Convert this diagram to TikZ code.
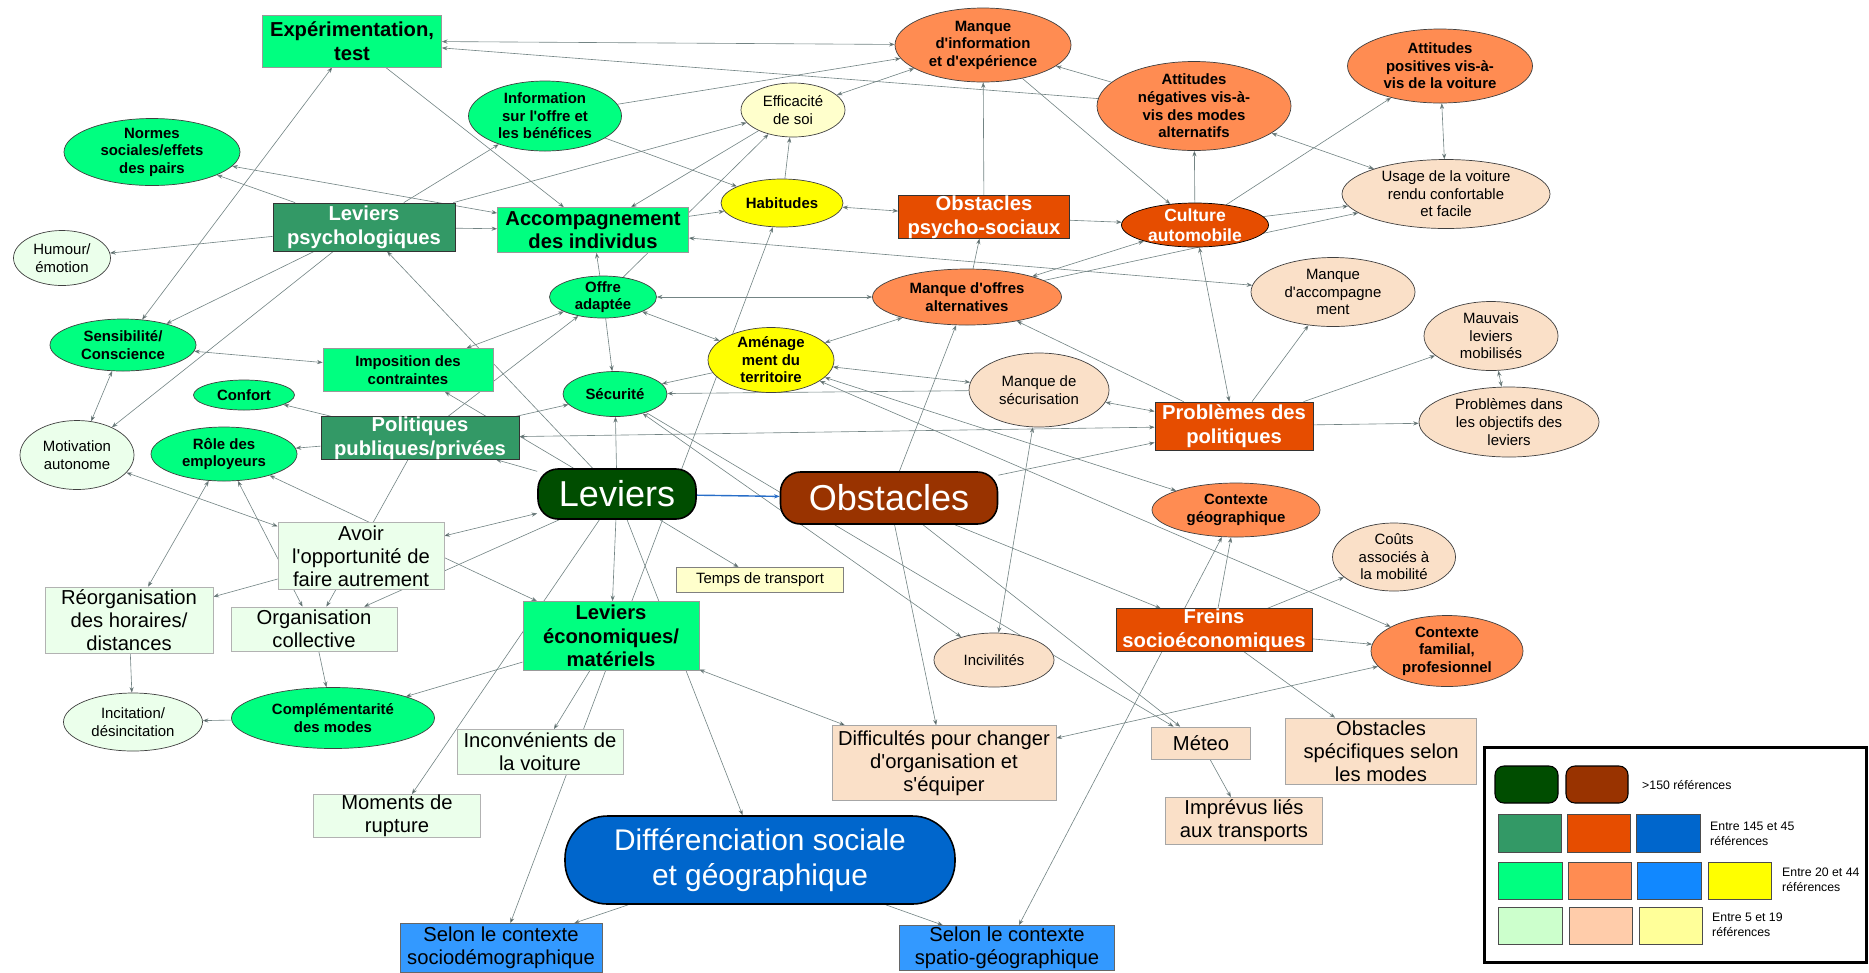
\documentclass[tikz,border=0pt]{standalone}
\usepackage{fontspec}
\setmainfont{Liberation Sans}[Ligatures=TeXOff]
\usetikzlibrary{shapes.geometric,arrows.meta,backgrounds}

\definecolor{levdark}{RGB}{0,77,0}
\definecolor{obsdark}{RGB}{153,51,0}
\definecolor{difdark}{RGB}{0,102,204}
\definecolor{levmid}{RGB}{51,153,102}
\definecolor{obsmid}{RGB}{230,77,0}
\definecolor{levlight}{RGB}{0,255,128}
\definecolor{obslight}{RGB}{255,140,82}
\definecolor{difblue}{RGB}{51,153,255}
\definecolor{difmid}{RGB}{17,136,255}
\definecolor{yel}{RGB}{255,255,0}
\definecolor{levpale}{RGB}{235,255,235}
\definecolor{obspale}{RGB}{250,224,200}
\definecolor{yelpale}{RGB}{255,255,204}
\definecolor{keygreen}{RGB}{204,255,204}
\definecolor{keypeach}{RGB}{255,204,170}
\definecolor{keyyel}{RGB}{255,255,153}
\definecolor{lnkgray}{RGB}{115,132,132}
\definecolor{lnkblue}{RGB}{40,110,200}

\newcommand{\fntS}{\fontsize{8.5}{10}\selectfont}
\newcommand{\fntB}{\fontsize{11.5}{13.5}\selectfont\bfseries}
\newcommand{\fntP}{\fontsize{11.5}{13}\selectfont}
\newcommand{\fntK}{\fontsize{7}{8.3}\selectfont}

\tikzset{
  nd/.style={inner sep=0pt, align=center, line width=0.4pt},
  ellnode/.style={nd, ellipse, inner sep=-2pt, draw=black!75},
  gell/.style={ellnode, fill=levlight, font=\fntS\bfseries},
  pgell/.style={ellnode, fill=levpale, font=\fntS},
  oell/.style={ellnode, fill=obslight, font=\fntS\bfseries},
  doell/.style={ellnode, fill=obsmid, draw=black, text=white, font=\fontsize{10}{11.3}\selectfont\bfseries},
  pell/.style={ellnode, fill=obspale, font=\fntS},
  yell/.style={ellnode, fill=yel, font=\fntS\bfseries},
  pyell/.style={ellnode, fill=yelpale, font=\fntS},
  lbox/.style={nd, rectangle, fill=levlight, draw=black!40, font=\fntB},
  mbox/.style={nd, rectangle, fill=levmid, draw=black!80, text=white, font=\fntB},
  obox/.style={nd, rectangle, fill=obsmid, draw=black!80, text=white, font=\fntB},
  pgbox/.style={nd, rectangle, fill=levpale, draw=black!30, font=\fntP},
  pbox/.style={nd, rectangle, fill=obspale, draw=black!35, font=\fntP},
  pybox/.style={nd, rectangle, fill=yelpale, draw=black!50, font=\fntS},
  bbox/.style={nd, rectangle, fill=difblue, draw=black!60, font=\fntP},
  root/.style={nd, rectangle, draw=black, line width=0.9pt, text=white},
  lnk/.style={draw=lnkgray, line width=0.35pt, ->},
  lnk2/.style={lnk, <->},
  >={Stealth[length=3.2pt,width=2.4pt]}
}

\begin{document}
\begin{tikzpicture}[x=0.2mm, y=-0.2mm]
	\useasboundingbox (0,0) rectangle (1869,972);

	% leviers
	\node[lbox, minimum width=35.8mm, minimum height=10.4mm] (exp) at (352,41) {Expérimentation,\\test};
	\node[gell, minimum width=30.6mm, minimum height=14mm] (info) at (545,116) {Information\\sur l'offre et\\les bénéfices};
	\node[gell, minimum width=35.2mm, minimum height=13.4mm] (normes) at (152,152) {Normes\\sociales/effets\\des pairs};
	\node[mbox, minimum width=36.4mm, minimum height=9.6mm] (levpsy) at (364,227) {Leviers\\psychologiques};
	\node[pgell, minimum width=19.4mm, minimum height=11mm] (humour) at (62,258) {Humour/\\émotion};
	\node[lbox, minimum width=38.2mm, minimum height=9mm] (accomp) at (593,230) {Accompagnement\\des individus};
	\node[gell, minimum width=21.4mm, minimum height=8.4mm] (offre) at (603,297) {Offre\\adaptée};
	\node[gell, minimum width=29.2mm, minimum height=10.4mm] (sensib) at (123,345) {Sensibilité/\\Conscience};
	\node[lbox, font=\fntS\bfseries, minimum width=34mm, minimum height=8.6mm] (impos) at (408,370) {Imposition des\\contraintes};
	\node[gell, minimum width=20.2mm, minimum height=6mm] (confort) at (244,395) {Confort};
	\node[gell, minimum width=20.8mm, minimum height=9mm] (secur) at (615,394) {Sécurité};
	\node[mbox, minimum width=39.6mm, minimum height=8.4mm] (polit) at (420,438) {Politiques\\publiques/privées};
	\node[pgell, minimum width=22.8mm, minimum height=13.8mm] (motiv) at (77,455) {Motivation\\autonome};
	\node[gell, minimum width=29.2mm, minimum height=10.8mm] (role) at (224,454) {Rôle des\\employeurs};
	\node[pgbox, minimum width=33.2mm, minimum height=13.4mm] (avoir) at (361,556) {Avoir\\l'opportunité de\\faire autrement};
	\node[pgbox, minimum width=33.6mm, minimum height=13.2mm] (reorg) at (129,620) {Réorganisation\\des horaires/\\distances};
	\node[pgbox, minimum width=33.2mm, minimum height=8.8mm] (orgcol) at (314,629) {Organisation\\collective};
	\node[lbox, minimum width=35.2mm, minimum height=13.8mm] (leveco) at (611,636) {Leviers\\économiques/\\matériels};
	\node[pgell, minimum width=27.8mm, minimum height=11.6mm] (incit) at (133,722) {Incitation/\\désincitation};
	\node[gell, minimum width=40.6mm, minimum height=12.2mm] (compl) at (333,718) {Complémentarité\\des modes};
	\node[pgbox, minimum width=33.2mm, minimum height=9mm] (inconv) at (540,752) {Inconvénients de\\la voiture};
	\node[pgbox, minimum width=33.4mm, minimum height=8.6mm] (moments) at (397,816) {Moments de\\rupture};
	\node[pybox, minimum width=33.4mm, minimum height=5mm] (temps) at (760,580) {Temps de transport};

	% obstacles
	\node[oell, minimum width=35.2mm, minimum height=14.8mm] (minfo) at (983,45) {Manque\\d'information\\et d'expérience};
	\node[oell, minimum width=38.8mm, minimum height=17.8mm] (attneg) at (1194,106) {Attitudes\\négatives vis-à-\\vis des modes\\alternatifs};
	\node[oell, minimum width=37mm, minimum height=14.8mm] (attpos) at (1440,66) {Attitudes\\positives vis-à-\\vis de la voiture};
	\node[pell, minimum width=41.6mm, minimum height=13.8mm] (usage) at (1446,194) {Usage de la voiture\\rendu confortable\\et facile};
	\node[pyell, minimum width=20.8mm, minimum height=10.8mm] (effic) at (793,110) {Efficacité\\de soi};
	\node[yell, minimum width=24.4mm, minimum height=9.6mm] (habit) at (782,203) {Habitudes};
	\node[obox, minimum width=34.2mm, minimum height=8.2mm] (obstpsy) at (984,217) {Obstacles\\psycho-sociaux};
	\node[doell, minimum width=29.4mm, minimum height=8.8mm] (culture) at (1195,225) {Culture\\automobile};
	\node[pell, minimum width=32.8mm, minimum height=13.8mm] (maccomp) at (1333,292) {Manque\\d'accompagne\\ment};
	\node[oell, minimum width=37.8mm, minimum height=11.2mm] (moffres) at (967,297) {Manque d'offres\\alternatives};
	\node[yell, minimum width=25.2mm, minimum height=13mm] (amenag) at (771,360) {Aménage\\ment du\\territoire};
	\node[pell, minimum width=28mm, minimum height=14.8mm] (msecur) at (1039,390) {Manque de\\sécurisation};
	\node[pell, minimum width=26.8mm, minimum height=13.8mm] (mauvais) at (1491,336) {Mauvais\\leviers\\mobilisés};
	\node[pell, minimum width=36mm, minimum height=14mm] (pobj) at (1509,422) {Problèmes dans\\les objectifs des\\leviers};
	\node[obox, minimum width=31.6mm, minimum height=9.6mm] (probpol) at (1234,426) {Problèmes des\\politiques};
	\node[oell, minimum width=33.6mm, minimum height=10.8mm] (ctxgeo) at (1236,510) {Contexte\\géographique};
	\node[pell, minimum width=24.6mm, minimum height=13.6mm] (couts) at (1394,557) {Coûts\\associés à\\la mobilité};
	\node[obox, minimum width=39.2mm, minimum height=8.2mm] (freins) at (1214,630) {Freins\\socioéconomiques};
	\node[pell, minimum width=24mm, minimum height=10.8mm] (incivil) at (994,660) {Incivilités};
	\node[oell, minimum width=30.4mm, minimum height=14.2mm] (ctxfam) at (1447,651) {Contexte\\familial,\\profesionnel};
	\node[pbox, minimum width=44.8mm, minimum height=15mm] (diffic) at (944,763) {Difficultés pour changer\\d'organisation et\\s'équiper};
	\node[pbox, minimum width=19.8mm, minimum height=6.4mm] (meteo) at (1201,743) {Méteo};
	\node[pbox, minimum width=38.2mm, minimum height=13.2mm] (obstspe) at (1381,751) {Obstacles\\spécifiques selon\\les modes};
	\node[pbox, minimum width=31.4mm, minimum height=9.4mm] (imprev) at (1244,821) {Imprévus liés\\aux transports};

	% racines
	\node[root, fill=levdark, rounded corners=4mm, minimum width=31.6mm, minimum height=10mm, font=\fontsize{20.5}{24}\selectfont] (lev) at (617,494) {Leviers};
	\node[root, fill=obsdark, rounded corners=4mm, minimum width=43.4mm, minimum height=10.4mm, font=\fontsize{20.5}{24}\selectfont] (obst) at (889,498) {Obstacles};
	\node[root, fill=difdark, rounded corners=8.5mm, minimum width=78mm, minimum height=17.6mm, font=\fontsize{17}{20}\selectfont] (diffsoc) at (760,860) {Différenciation sociale\\et géographique};
	\node[bbox, minimum width=40.4mm, minimum height=9.8mm] (selsoc) at (501,948) {Selon le contexte\\sociodémographique};
	\node[bbox, minimum width=43mm, minimum height=9mm] (selspa) at (1007,948) {Selon le contexte\\spatio-géographique};

	% legende
	\draw[line width=1.7pt] (1484,747) rectangle (1866,962);
	\draw[fill=levdark, rounded corners=1.8mm, line width=0.6pt] (1495,766) rectangle (1558,803);
	\draw[fill=obsdark, rounded corners=1.8mm, line width=0.6pt] (1566,766) rectangle (1628,803);
	\draw[fill=levmid, draw=black!70] (1498,814) rectangle (1561,852);
	\draw[fill=obsmid, draw=black!70] (1567,814) rectangle (1630,852);
	\draw[fill=difdark, draw=black!70] (1636,814) rectangle (1700,852);
	\draw[fill=levlight, draw=black!70] (1498,862) rectangle (1562,899);
	\draw[fill=obslight, draw=black!70] (1568,862) rectangle (1631,899);
	\draw[fill=difmid, draw=black!70] (1637,862) rectangle (1701,899);
	\draw[fill=yel, draw=black!70] (1708,862) rectangle (1771,899);
	\draw[fill=keygreen, draw=black!70] (1498,907) rectangle (1562,944);
	\draw[fill=keypeach, draw=black!70] (1569,907) rectangle (1632,944);
	\draw[fill=keyyel, draw=black!70] (1639,907) rectangle (1702,944);
	\node[font=\fntK, anchor=west, align=left] (k1) at (1636,785) {>150 références};
	\node[font=\fntK, anchor=west, align=left] (k2) at (1704,834) {Entre 145 et 45\\références};
	\node[font=\fntK, anchor=west, align=left] (k3) at (1776,880) {Entre 20 et 44\\références};
	\node[font=\fntK, anchor=west, align=left] (k4) at (1706,925) {Entre 5 et 19\\références};

	\begin{pgfonlayer}{background}
	\path[lnk2] (exp) edge (minfo);
	\path[lnk] (attneg) edge (exp);
	\path[lnk2] (exp) edge (sensib);
	\path[lnk] (exp) edge (accomp);
	\path[lnk2] (normes) edge (accomp);
	\path[lnk] (levpsy) edge (normes);
	\path[lnk] (levpsy) edge (humour);
	\path[lnk] (levpsy) edge (info);
	\path[lnk] (levpsy) edge (effic);
	\path[lnk] (levpsy) edge (accomp);
	\path[lnk] (levpsy) edge (sensib);
	\path[lnk] (levpsy) edge (motiv);
	\path[lnk] (lev) edge (levpsy);
	\path[lnk] (info) edge (habit);
	\path[lnk] (info) edge (minfo);
	\path[lnk] (effic) edge (accomp);
	\path[lnk2] (minfo) edge (effic);
	\path[lnk] (obstpsy) edge (minfo);
	\path[lnk] (minfo) edge (culture);
	\path[lnk] (attneg) edge (minfo);
	\path[lnk] (culture) edge (attneg);
	\path[lnk2] (attneg) edge (usage);
	\path[lnk2] (attpos) edge (usage);
	\path[lnk] (culture) edge (attpos);
	\path[lnk] (culture) edge (usage);
	\path[lnk] (moffres) edge (usage);
	\path[lnk2] (moffres) edge (culture);
	\path[lnk] (accomp) edge (habit);
	\path[lnk] (offre) edge (accomp);
	\path[lnk2] (accomp) edge (maccomp);
	\path[lnk2] (offre) edge (impos);
	\path[lnk] (polit) edge (offre);
	\path[lnk] (habit) edge (effic);
	\path[lnk2] (habit) edge (obstpsy);
	\path[lnk2] (habit) edge (selsoc);
	\path[lnk2] (offre) edge (moffres);
	\path[lnk2] (amenag) edge (offre);
	\path[lnk] (offre) edge (secur);
	\path[lnk] (offre) edge (effic);
	\path[lnk2] (sensib) edge (impos);
	\path[lnk2] (sensib) edge (motiv);
	\path[lnk] (lev) edge (impos);
	\path[lnk] (polit) edge (confort);
	\path[lnk] (amenag) edge (secur);
	\path[lnk] (msecur) edge (secur);
	\path[lnk] (polit) edge (secur);
	\path[lnk2] (secur) edge (incivil);
	\path[lnk] (secur) edge (meteo);
	\path[lnk] (lev) edge (secur);
	\path[lnk] (lev) edge (polit);
	\path[lnk2] (polit) edge (probpol);
	\path[lnk] (polit) edge (role);
	\path[lnk] (polit) edge (orgcol);
	\path[lnk2] (lev) edge (avoir);
	\path[lnk] (lev) edge (orgcol);
	\path[lnk] (lev) edge (leveco);
	\path[lnk] (lev) edge (temps);
	\path[lnk] (lev) edge (diffsoc);
	\path[lnk] (lev) edge (moments);
	\path[lnk] (obst) edge (moffres);
	\path[lnk] (moffres) edge (obstpsy);
	\path[lnk] (obst) edge (probpol);
	\path[lnk] (obst) edge (diffic);
	\path[lnk] (obst) edge (meteo);
	\path[lnk] (obst) edge (freins);
	\path[lnk] (meteo) edge (imprev);
	\path[lnk] (freins) edge (obstspe);
	\path[lnk2] (amenag) edge (msecur);
	\path[lnk2] (probpol) edge (msecur);
	\path[lnk2] (msecur) edge (incivil);
	\path[lnk2] (culture) edge (probpol);
	\path[lnk] (probpol) edge (maccomp);
	\path[lnk] (probpol) edge (mauvais);
	\path[lnk] (probpol) edge (pobj);
	\path[lnk] (probpol) edge (moffres);
	\path[lnk2] (mauvais) edge (pobj);
	\path[lnk] (obstpsy) edge (culture);
	\path[lnk2] (amenag) edge (ctxgeo);
	\path[lnk2] (amenag) edge (ctxfam);
	\path[lnk] (freins) edge (ctxgeo);
	\path[lnk2] (ctxgeo) edge (selspa);
	\path[lnk] (freins) edge (couts);
	\path[lnk] (freins) edge (ctxfam);
	\path[lnk2] (ctxfam) edge (diffic);
	\path[lnk2] (leveco) edge (diffic);
	\path[lnk2] (motiv) edge (avoir);
	\path[lnk2] (role) edge (leveco);
	\path[lnk] (avoir) edge (reorg);
	\path[lnk2] (role) edge (reorg);
	\path[lnk2] (role) edge (orgcol);
	\path[lnk] (reorg) edge (incit);
	\path[lnk] (orgcol) edge (compl);
	\path[lnk] (compl) edge (incit);
	\path[lnk] (leveco) edge (compl);
	\path[lnk] (leveco) edge (inconv);
	\path[lnk] (diffsoc) edge (selsoc);
	\path[lnk] (diffsoc) edge (selspa);
	\path[lnk2] (moffres) edge (amenag);
	\path[lnk, draw=lnkblue, line width=0.8pt] (lev) edge (obst);
	\end{pgfonlayer}

\end{tikzpicture}
\end{document}
